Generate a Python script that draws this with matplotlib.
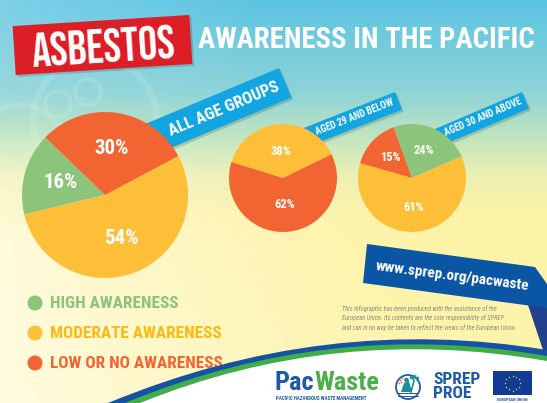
import numpy as np
import matplotlib
matplotlib.use('Agg')
import matplotlib.pyplot as plt
from matplotlib.patches import Polygon, Circle, PathPatch, Rectangle
from matplotlib.path import Path

# 数据
categories = ['HIGH AWARENESS', 'MODERATE AWARENESS', 'LOW OR NO AWARENESS']
slice_colors = ['#8cc47c', '#fdbf38', '#f26532']
legend_colors = ['#8cc47c', '#fdb913', '#f26532']
groups = ['ALL AGE GROUPS', 'AGED 29 AND BELOW', 'AGED 30 AND ABOVE']
all_ages = [16, 54, 30]
aged_29_below = [0, 38, 62]
aged_30_above = [24, 61, 15]

COND = ['Roboto Condensed', 'DejaVu Sans']
TITLE = ['Bebas Neue', 'DejaVu Sans']
BLUE = '#12a5e2'
W, H = 547, 403

fig = plt.figure(figsize=(W / 100, H / 100), dpi=100)
ax = fig.add_axes([0, 0, 1, 1])

# 背景渐变
ys = np.arange(H)[:, None]
xs = np.arange(W)[None, :]
stops_y = [0, 90, 135, 175, 215, 403]
stops_c = np.array([[92, 196, 226], [140, 211, 216], [190, 228, 192],
                    [236, 240, 178], [253, 243, 166], [254, 245, 176]]) / 255
grad = np.stack([np.interp(np.arange(H), stops_y, stops_c[:, k]) for k in range(3)], axis=-1)
img = np.repeat(grad[:, None, :], W, axis=1)
w = np.clip(1 - xs / 430, 0, 1) ** 1.3 * np.clip((ys - 120) / 120, 0, 1) * 0.6
w += np.clip(1 - xs / 260, 0, 1) * np.clip(1 - ys / 200, 0, 1) * 0.2
img = img * (1 - w[..., None]) + w[..., None]
ax.imshow(img, extent=(0, W, H, 0), zorder=0, aspect='auto')

# 背景上的淡圆圈
for cx, cy, r, lw in [(95, 120, 62, 5), (58, 104, 13, 3), (88, 92, 13, 3), (20, 150, 45, 4)]:
    ax.add_patch(Circle((cx, cy), r, fill=False, ec='white', lw=lw, alpha=0.12, zorder=0.5))


def rot_rect(cx, cy, w, h, ang):
    a = np.radians(ang)
    u = np.array([np.cos(a), -np.sin(a)])
    v = np.array([np.sin(a), np.cos(a)])
    c = np.array([cx, cy])
    return [c - w / 2 * u - h / 2 * v, c + w / 2 * u - h / 2 * v,
            c + w / 2 * u + h / 2 * v, c - w / 2 * u + h / 2 * v]


def ribbon(tr, ang, width, length, label, text_xy, fs):
    a = np.radians(ang)
    u = np.array([np.cos(a), -np.sin(a)])
    v = np.array([np.sin(a), np.cos(a)])
    tr = np.array(tr, float)
    pts = np.array([tr, tr + width * v, tr + width * v - length * u, tr - length * u])
    ax.add_patch(Polygon(pts + [2, 2], closed=True, color='black', alpha=0.15, lw=0, zorder=2))
    ax.add_patch(Polygon(pts, closed=True, color=BLUE, lw=0, zorder=2.1))
    ax.text(*text_xy, label, rotation=ang, rotation_mode='anchor', ha='center', va='center',
            color='white', fontsize=fs, fontweight='bold', family=COND, zorder=2.2)


# 标题
box = rot_rect(102.5, 45, 177, 49, 3.6)
ax.add_patch(Polygon(np.array(box) + [2, 2], closed=True, color='black', alpha=0.15, lw=0, zorder=3))
ax.add_patch(Polygon(box, closed=True, color='#dc1f26', lw=0, zorder=3.1))
ax.text(103, 46, 'ASBESTOS', rotation=3.6, rotation_mode='anchor', ha='center', va='center',
        color='white', fontsize=34, family=TITLE, zorder=3.2)
ax.text(366, 40, 'AWARENESS IN THE PACIFIC', ha='center', va='center', color='white',
        fontsize=20.7, fontweight='bold', family=COND, zorder=3)

# 缎带
ribbon((279, 68), 22.7, 32, 150, groups[0], (224, 109), 12)
ribbon((395, 92), 21.5, 19, 110, groups[1], (355, 117), 7)
ribbon((522, 92), 23, 18, 110, groups[2], (483, 117), 7)


# 饼图 (y轴翻转, 屏幕上角度方向相反)
def draw_pie(vals, cx, cy, r, start, ccw, pctdist, fs):
    wedges, _, autotexts = ax.pie(
        vals, colors=slice_colors, center=(cx, cy), radius=r,
        startangle=-start, counterclock=not ccw,
        autopct=lambda p: f'{p:.0f}%' if p > 0 else '', pctdistance=pctdist,
        wedgeprops=dict(linewidth=0),
        textprops=dict(color='white', fontsize=fs, fontweight='bold', family=COND))
    for wdg in wedges:
        wdg.set_zorder(4)
    for t in autotexts:
        t.set_zorder(5)


draw_pie(all_ages, 105, 195, 83, 136, True, 0.56, 15)
draw_pie(aged_29_below, 283, 178, 54, 26, True, 0.5, 9)
draw_pie(aged_30_above, 412, 178, 54, 110, False, 0.55, 9)

# 图例
for i, (lab, c, tc) in enumerate(zip(categories, slice_colors, legend_colors)):
    y = 303 + 30 * i
    ax.add_patch(Circle((35, y), 7.5, color=c, lw=0, zorder=3))
    ax.text(50, y + 0.5, lab, color=tc, fontsize=12.3, fontweight='bold', family=COND,
            va='center', ha='left', zorder=3)

# 网址框
ax.add_patch(Polygon([(528, 305), (547, 299), (547, 362)], closed=True, color='#243f8c', lw=0, zorder=2))
ax.add_patch(Polygon([(367, 244), (535, 267), (547, 284), (547, 308), (363, 283)],
                     closed=True, color='#0b56a4', lw=0, zorder=2.1))
ax.text(452, 276, 'www.sprep.org/pacwaste', rotation=-7.5, rotation_mode='anchor',
        ha='center', va='center', color='white', fontsize=11, fontweight='bold', family=COND, zorder=2.2)

ax.text(342, 305, 'This infographic has been produced with the assistance of the\n'
                  'European Union. Its contents are the sole responsibility of SPREP\n'
                  'and can in no way be taken to reflect the views of the European Union.',
        ha='left', va='top', color='#8d8d80', fontsize=4.7, style='italic', family=COND,
        linespacing=1.5, zorder=2)


# 底部白色弧带
def swoosh(p0, p1, p2, color, z):
    verts = [p0, p1, p2, (W, H), (p0[0], H), p0]
    codes = [Path.MOVETO, Path.CURVE3, Path.CURVE3, Path.LINETO, Path.LINETO, Path.CLOSEPOLY]
    ax.add_patch(PathPatch(Path(verts, codes), color=color, lw=0, zorder=z))


swoosh((108, H), (325, 313), (W, 350), '#1552a3', 6)
swoosh((125, H), (330, 318), (W, 356), '#3fae4a', 6.1)
swoosh((140, H), (335, 324), (W, 361), 'white', 6.2)

# 标志
t_pac = ax.text(275, 395, 'Pac', color='#1d5ba6', fontsize=19, fontweight='bold', family=COND,
                ha='left', va='bottom', zorder=7)
ax.annotate('Waste', xy=(1, 0), xycoords=t_pac, color='#4bb04a', fontsize=19, fontweight='bold',
            family=COND, ha='left', va='bottom', zorder=7)
ax.text(276, 399, 'PACIFIC HAZARDOUS WASTE MANAGEMENT', color='#1d5ba6', fontsize=3.6,
        fontweight='bold', family=COND, ha='left', va='center', zorder=7)

ax.add_patch(Circle((408, 387), 12, fc='white', ec='#1d5ba6', lw=1.3, zorder=7))
ax.add_patch(Polygon([(401, 392), (404, 383), (409, 381), (412, 392)], closed=True,
                     color='#1a8f9a', lw=0, zorder=7.1))
ax.add_patch(Circle((406.5, 380), 2.3, color='#1a8f9a', lw=0, zorder=7.1))
ax.plot([411, 414, 413], [392, 381, 377], color='#1a8f9a', lw=1.2, zorder=7.1)
ax.scatter([414, 411, 417], [376, 377, 378], marker=(5, 1), s=14, color='#1a8f9a', lw=0, zorder=7.1)
ax.scatter([400, 402, 399, 401], [380, 378, 383, 382], s=1.5, color='#f0603a', lw=0, zorder=7.2)
for yy in (393, 395.5):
    ax.plot([398, 418], [yy, yy], color='#1d5ba6', lw=0.7, zorder=7.2)
ax.text(433, 380, 'SPREP', color='#1d5ba6', fontsize=12.5, fontweight='bold', family=COND,
        ha='left', va='center', zorder=7)
ax.text(433, 394, 'PROE', color='#1d5ba6', fontsize=12.5, fontweight='bold', family=COND,
        ha='left', va='center', zorder=7)

ax.add_patch(Rectangle((493, 371), 39, 24, color='#103c98', lw=0, zorder=7))
ang = np.linspace(0, 2 * np.pi, 12, endpoint=False)
ax.scatter(512.5 + 7.5 * np.cos(ang), 383 + 7.5 * np.sin(ang), marker='*', s=3,
           color='#ffdd00', lw=0, zorder=7.1)
ax.text(512.5, 400, 'EUROPEAN UNION', color='#1d5ba6', fontsize=3, fontweight='bold',
        family=COND, ha='center', va='center', zorder=7)

ax.set_xlim(0, W)
ax.set_ylim(H, 0)
ax.set_aspect('auto')
ax.axis('off')
fig.savefig('out.png', dpi=100)
